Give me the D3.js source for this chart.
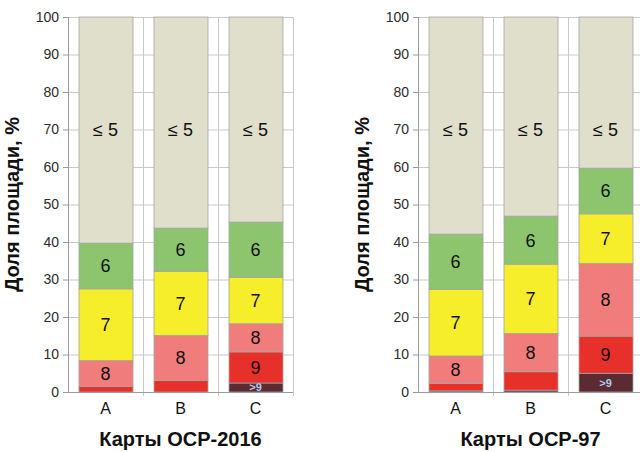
<!DOCTYPE html>
<html>
<head>
<meta charset="utf-8">
<script src="https://cdn.jsdelivr.net/npm/d3@7"></script>
<style>
  body { margin: 0; background: #fff; }
  svg { display: block; font-family: "Liberation Sans", Arial, sans-serif; }
</style>
</head>
<body>
<div id="chart"></div>
<script>
// Categories and classes (bottom to top)
var categories = ["A", "B", "C"];
var classes = [">9", "9", "8", "7", "6", "≤ 5"];
var classColors = ["#5b2b31", "#e8302a", "#f07d7b", "#f7ee2b", "#8cc56e", "#dfdfcc"];
var yTicks = [0, 10, 20, 30, 40, 50, 60, 70, 80, 90, 100];

// Карты ОСР-2016 (% of area per class, for A, B, C)
var ocr2016_gt9 = [0, 0, 2.4];
var ocr2016_9 = [1.5, 3.1, 8.3];
var ocr2016_8 = [6.9, 12.0, 7.5];
var ocr2016_7 = [19.1, 17.1, 12.4];
var ocr2016_6 = [12.2, 11.5, 14.7];
var ocr2016_le5 = [60.3, 56.3, 54.7];

// Карты ОСР-97
var ocr97_gt9 = [0.3, 0.5, 5.0];
var ocr97_9 = [2.0, 4.9, 9.9];
var ocr97_8 = [7.3, 10.2, 19.4];
var ocr97_7 = [17.8, 18.5, 13.2];
var ocr97_6 = [14.7, 12.8, 12.2];
var ocr97_le5 = [57.9, 53.1, 40.3];

var yLabelText = "Доля площади, %";
var le5LabelAt = 70;

var svgWidth = 640;
var svgHeight = 452;

var svg = d3.select("#chart")
  .append("svg")
  .attr("width", svgWidth)
  .attr("height", svgHeight);

function drawChart(left, title, series) {
  var top = 17, bottom = 392, width = 225;

  var xScale = d3.scaleBand()
    .domain(categories)
    .range([0, width])
    .paddingInner(0.28)
    .paddingOuter(0.14);

  var yScale = d3.scaleLinear()
    .domain([0, 100])
    .range([bottom - top, 0]);

  var g = svg.append("g")
    .attr("transform", `translate(${left}, ${top})`);

  // horizontal gridlines
  g.selectAll(".hgrid")
    .data(yTicks)
    .enter()
    .append("line")
    .attr("x1", 0)
    .attr("x2", width)
    .attr("y1", d => yScale(d) + 0.5)
    .attr("y2", d => yScale(d) + 0.5)
    .attr("stroke", "#c9c9c9")
    .attr("stroke-width", 1);

  // vertical gridlines at category boundaries
  g.selectAll(".vgrid")
    .data(categories)
    .enter()
    .append("line")
    .attr("x1", (d, i) => (i + 1) * width / categories.length + 0.5)
    .attr("x2", (d, i) => (i + 1) * width / categories.length + 0.5)
    .attr("y1", 0)
    .attr("y2", yScale(0) + 4)
    .attr("stroke", "#c9c9c9");

  // stack the series
  var rows = categories.map((c, i) => {
    var row = { cat: c };
    classes.forEach((k, j) => { row[k] = series[j][i]; });
    return row;
  });
  var stacked = d3.stack().keys(classes)(rows);

  var layers = g.selectAll(".layer")
    .data(stacked)
    .enter()
    .append("g")
    .attr("fill", (d, i) => classColors[i]);

  layers.selectAll("rect")
    .data(d => d.map(p => ({ p: p, key: d.key })))
    .enter()
    .append("rect")
    .attr("x", d => xScale(d.p.data.cat) + 0.5)
    .attr("y", d => yScale(d.p[1]))
    .attr("width", xScale.bandwidth())
    .attr("height", d => yScale(d.p[0]) - yScale(d.p[1]))
    .attr("stroke", "#a3a3a3")
    .attr("stroke-width", 0.8);

  // segment labels
  layers.selectAll("text")
    .data(d => d.map(p => ({ p: p, key: d.key })))
    .enter()
    .filter(d => {
      var v = d.p[1] - d.p[0];
      return d.key === ">9" ? v >= 2 : v >= 6;
    })
    .append("text")
    .attr("x", d => xScale(d.p.data.cat) + xScale.bandwidth() / 2)
    .attr("y", d => d.key === "≤ 5" ? yScale(le5LabelAt) : yScale((d.p[0] + d.p[1]) / 2))
    .attr("dy", "0.36em")
    .attr("text-anchor", "middle")
    .attr("font-size", d => d.key === ">9" ? "11px" : "18px")
    .attr("font-weight", d => d.key === ">9" ? "bold" : "normal")
    .attr("fill", d => d.key === ">9" ? "#a9cdf2" : "#111")
    .text(d => d.key);

  // axes
  var yAxis = d3.axisLeft(yScale)
    .tickValues(yTicks)
    .tickSize(5)
    .tickPadding(4);
  var yG = g.append("g").call(yAxis);
  yG.select(".domain").attr("stroke", "#9a9a9a").attr("d", `M0.5,${yScale(100)}V${yScale(0)}`);
  yG.selectAll(".tick line").attr("stroke", "#9a9a9a");
  yG.selectAll(".tick text")
    .attr("font-size", "14px")
    .attr("font-family", "Liberation Sans, Arial, sans-serif")
    .attr("fill", "#2b2b2b");

  g.append("line")
    .attr("x1", 0)
    .attr("x2", width)
    .attr("y1", yScale(0) + 0.5)
    .attr("y2", yScale(0) + 0.5)
    .attr("stroke", "#9a9a9a");

  g.selectAll(".xlab")
    .data(categories)
    .enter()
    .append("text")
    .attr("x", d => xScale(d) + xScale.bandwidth() / 2)
    .attr("y", yScale(0) + 22)
    .attr("text-anchor", "middle")
    .attr("font-size", "16px")
    .attr("fill", "#111")
    .text(d => d);

  // chart title under axis
  g.append("text")
    .attr("x", width / 2)
    .attr("y", yScale(0) + 54)
    .attr("text-anchor", "middle")
    .attr("font-size", "20px")
    .attr("font-weight", "bold")
    .attr("fill", "#111")
    .text(title);

  // y axis title
  g.append("text")
    .attr("transform", `translate(-49, ${yScale(50)})rotate(-90)`)
    .attr("text-anchor", "middle")
    .attr("font-size", "20px")
    .attr("font-weight", "bold")
    .attr("fill", "#111")
    .text(yLabelText);
}

drawChart(68, "Карты ОСР-2016",
  [ocr2016_gt9, ocr2016_9, ocr2016_8, ocr2016_7, ocr2016_6, ocr2016_le5]);
drawChart(418, "Карты ОСР-97",
  [ocr97_gt9, ocr97_9, ocr97_8, ocr97_7, ocr97_6, ocr97_le5]);
</script>
</body>
</html>
